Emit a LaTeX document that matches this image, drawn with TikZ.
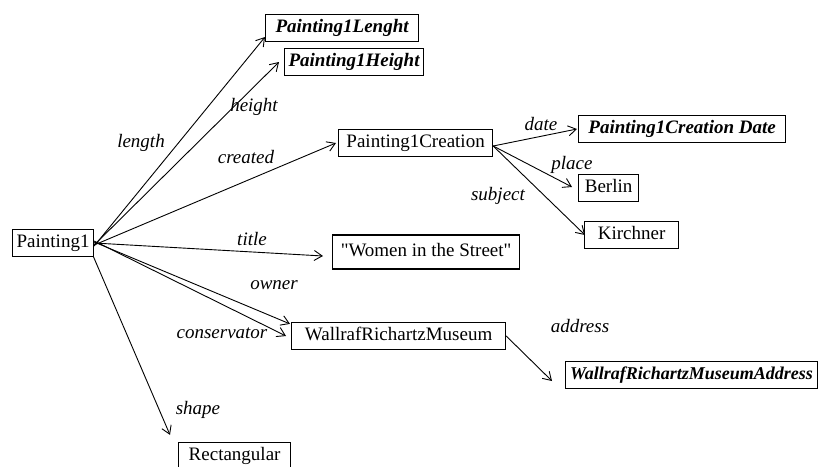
\documentclass[tikz,border=0pt]{standalone}
\usepackage{fontspec}
\setmainfont{Liberation Serif}[Ligatures=TeXOff]
\usetikzlibrary{arrows.meta}
\begin{document}
\begin{tikzpicture}[x=1pt,y=-1pt,
  every node/.style={font=\fontsize{19}{21}\selectfont},
  res/.style={draw,line width=1.2pt,anchor=west,inner xsep=4pt,inner ysep=0pt,
              minimum height=27pt,text height=13.5pt,text depth=4pt},
  lit/.style={res,font=\fontsize{19}{21}\selectfont\bfseries\itshape},
  prop/.style={font=\fontsize{19}{21}\selectfont\itshape,inner sep=0pt},
  rel/.style={-{Straight Barb[length=8pt,width=10pt]},line width=0.9pt}]
\useasboundingbox (0,0) rectangle (824,466);

% resources and literals
\node[res,minimum width=81pt]  (p1)  at (12,243)  {Painting1};
\node[lit,minimum width=153pt] (len) at (265,28)  {Painting1Lenght};
\node[lit,minimum width=134pt] (hei) at (284,62)  {Painting1Height};
\node[res,minimum width=154pt] (cre) at (338,143) {Painting1Creation};
\node[lit,minimum width=207pt] (dat) at (578,129) {Painting1Creation Date};
\node[res,minimum width=60pt]  (ber) at (578,188) {Berlin};
\node[res,minimum width=94pt]  (kir) at (584,235) {Kirchner};
\node[res,minimum width=187pt,minimum height=34pt] (tit) at (332,252) {"Women in the Street"};
\node[res,minimum width=214pt] (wrm) at (291,336) {WallrafRichartzMuseum};
\node[lit,minimum width=252pt,inner xsep=1pt,
      font=\fontsize{18}{20}\selectfont\bfseries\itshape] (adr) at (565,375) {WallrafRichartzMuseumAddress};
\node[res,minimum width=112pt] (rec) at (178,456) {Rectangular};

% properties
\draw[rel] ([yshift=-3pt]p1.east) -- ([yshift=-9pt]len.west);
\draw[rel] ([yshift=-2pt]p1.east) -- ([xshift=-5pt]hei.west);
\draw[rel] ([yshift=-2pt]p1.east) -- ([xshift=-2pt]cre.west);
\draw[rel] (p1.east) -- ([xshift=-9pt,yshift=-4pt]tit.west);
\draw[rel] ([yshift=1pt]p1.east) -- ([xshift=-1pt,yshift=-2pt]wrm.north west);
\draw[rel] ([yshift=2pt]p1.east) -- ([xshift=-5pt]wrm.west);
\draw[rel] ([xshift=-1pt,yshift=1pt]p1.south east) -- ([xshift=-8pt,yshift=7pt]rec.north west);
\draw[rel] ([yshift=-3pt]cre.east) -- ([xshift=-1pt]dat.west);
\draw[rel] ([yshift=-3pt]cre.east) -- ([xshift=-6pt,yshift=1pt]ber.west);
\draw[rel] ([yshift=-3pt]cre.east) -- ([xshift=1pt]kir.west);
\draw[rel] (wrm.east) -- ([xshift=-13pt,yshift=-6pt]adr.west);

% property labels
\node[prop] (llen) at (141,143) {length};
\node[prop] (lhei) at (254,107) {height};
\node[prop] (lcre) at (246,157) {created};
\node[prop] (ltit) at (252,239) {title};
\node[prop] (lown) at (274,285) {owner};
\node[prop] (lcon) at (222,333) {conservator};
\node[prop] (lsha) at (198,410) {shape};
\node[prop] (ldat) at (541,124) {date};
\node[prop] (lpla) at (572,165) {place};
\node[prop] (lsub) at (498,196) {subject};
\node[prop] (ladr) at (580,326) {address};
\end{tikzpicture}
\end{document}
